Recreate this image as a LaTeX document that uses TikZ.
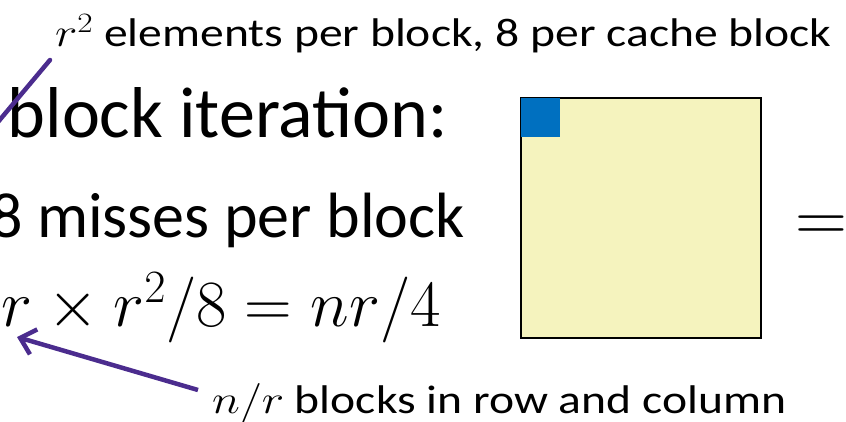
\RequirePackage{fix-cm}
\documentclass[tikz,border=0pt]{standalone}
\usepackage{fontspec}
\setmainfont{Carlito}
\usetikzlibrary{arrows.meta}
\definecolor{notepurple}{HTML}{4B2C8E}
\definecolor{blockblue}{HTML}{0070C0}
\definecolor{matyellow}{HTML}{F5F3BE}

\begin{document}
\begin{tikzpicture}[x=1pt,y=-1pt,
    big/.style={font=\fontsize{72}{86}\selectfont,inner sep=0pt},
    sub/.style={font=\fontsize{64}{77}\selectfont,inner sep=0pt},
    note/.style={font=\fontsize{40}{48}\selectfont,inner sep=0pt},
    callout/.style={notepurple,line width=4.5pt}]
  \useasboundingbox (0,0) rectangle (846,422);
  \clip (0,0) rectangle (846,422);
  % slide text, cut at the left edge
  \node[big,anchor=base east] (iter) at (448,138) {block iteration:};
  \node[sub,anchor=base east] (miss) at (465,238) {8 misses per block};
  \node[sub,anchor=base east] (total) at (441,326) {\resizebox{439pt}{!}{$r\times r^2/8=nr/4$}};
  % notes
  \node[note,anchor=base west] (elems) at (55,47) {\scalebox{1.19}[1]{$r^2$ elements per block, 8 per cache block}};
  \node[note,anchor=base west] (blocks) at (212,413) {\scalebox{1.19}[1]{$n/r$ blocks in row and column}};
  % matrix with one block
  \node[draw,line width=1.8pt,fill=matyellow,inner sep=0pt,minimum width=240pt,minimum height=240pt,anchor=north west] (mat) at (520,97) {};
  \fill[blockblue] ([shift={(0.9,0.9)}]mat.north west) rectangle ++(39,39);
  \node[big,anchor=base west] (eq) at (795,241) {$=$};
  % callouts
  \coordinate (sqtop) at (50,60);
  \coordinate (sqend) at (-2,122);
  \coordinate (rtip) at (17,337);
  \coordinate (blkfoot) at (198,390);
  \draw[callout,line cap=round] (sqtop) -- (sqend);
  \draw[callout,-{Straight Barb[length=14pt,width=26pt]}] (blkfoot) -- (rtip);
\end{tikzpicture}
\end{document}
